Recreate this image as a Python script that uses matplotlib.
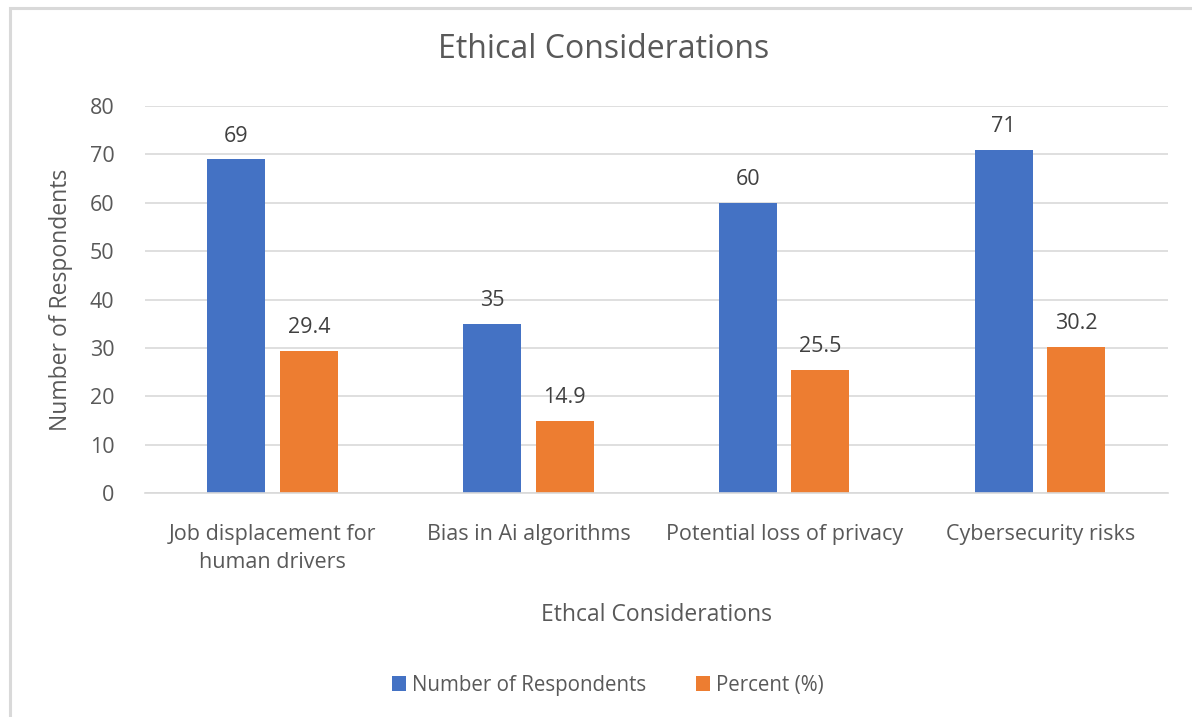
import numpy as np
import matplotlib
matplotlib.use('Agg')
import matplotlib.pyplot as plt
from matplotlib.patches import Rectangle

plt.rcParams['font.family'] = ['Open Sans', 'DejaVu Sans']

categories = ['Job displacement for\nhuman drivers', 'Bias in Ai algorithms',
              'Potential loss of privacy', 'Cybersecurity risks']
respondents = [69, 35, 60, 71]
percent = [29.4, 14.9, 25.5, 30.2]
yticks = [0, 10, 20, 30, 40, 50, 60, 70, 80]

txt = '#595959'
blue = '#4472C4'
orange = '#ED7D31'

fig = plt.figure(figsize=(11.92, 7.17), dpi=100)
ax = fig.add_axes([145/1192, 1 - 493/717, (1168-145)/1192, (493-106)/717])

x = np.arange(len(categories))
w = 0.227
b1 = ax.bar(x - 0.143, respondents, w, color=blue, label='Number of Respondents')
b2 = ax.bar(x + 0.141, percent, w, color=orange, label='Percent (%)')

for bars, vals in [(b1, respondents), (b2, percent)]:
    for r, v in zip(bars, vals):
        ax.annotate(str(v), (r.get_x() + r.get_width()/2, v), xytext=(0, 9),
                    textcoords='offset points', ha='center', va='bottom',
                    fontsize=15.5, color='#404040')

ax.set_xlim(-0.5, 3.5)
ax.set_ylim(0, 80)
ax.set_yticks(yticks)
ax.grid(axis='y', color='#D9D9D9', linewidth=1.2)
ax.set_axisbelow(True)
for s in ['top', 'right', 'left']:
    ax.spines[s].set_visible(False)
ax.spines['bottom'].set_color('#D9D9D9')
ax.spines['bottom'].set_linewidth(1.2)
ax.tick_params(axis='both', length=0, labelsize=15.5, colors=txt)
ax.tick_params(axis='y', pad=22)
ax.tick_params(axis='x', pad=22)
ax.set_xticks(x)
ax.set_xticklabels(categories, linespacing=1.45)

ax.set_ylabel('Number of Respondents', fontsize=16.5, color=txt, labelpad=12)
ax.set_xlabel('Ethcal Considerations', fontsize=16.5, color=txt, labelpad=22)
fig.text(604/1192, 1 - 50/717, 'Ethical Considerations', fontsize=23, color=txt,
         ha='center', va='center')

fig.legend(loc='center', bbox_to_anchor=(608/1192, 1 - 685/717), ncol=2,
           frameon=False, fontsize=14.8, labelcolor=txt, handlelength=0.7,
           handleheight=0.7, columnspacing=2.4, handletextpad=0.3)

fig.patches.append(Rectangle((10/1192, -0.1), 1.2, 1 - 8/717 + 0.1,
                             transform=fig.transFigure, fill=False,
                             edgecolor='#D9D9D9', linewidth=2.2))

fig.savefig('out.png', dpi=100)
